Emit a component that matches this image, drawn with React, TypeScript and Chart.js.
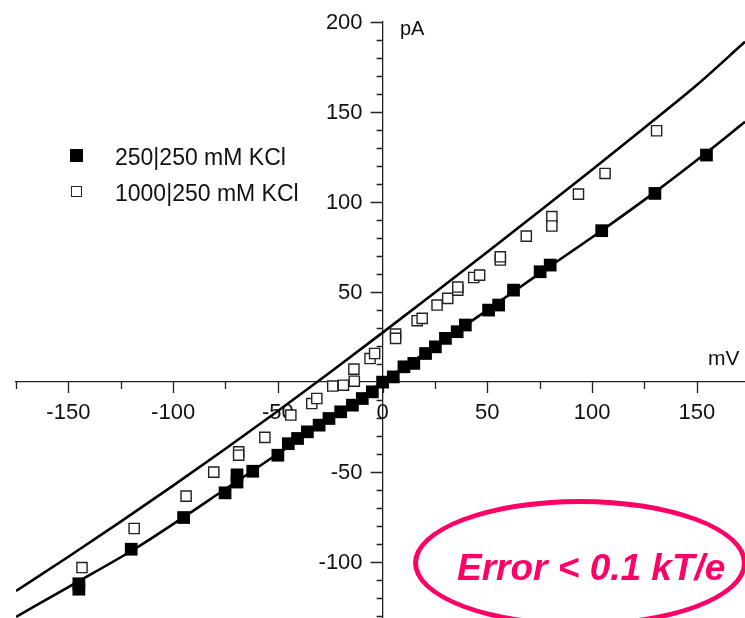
import React, { useEffect, useRef } from "react";
import { Chart, registerables } from "chart.js";

Chart.register(...registerables);

// ---- data (mV, pA) ----
const kcl250V = [-145, -145, -120, -95, -75.2, -69.5, -69.5, -62, -50, -45, -40.6, -35.9, -30.3, -25.6, -20, -14.4, -9.7, -4.9, 0, 5.1, 10.2, 14.9, 20.5, 25.2, 30, 35.6, 39.5, 50.6, 55.4, 62.5, 75.2, 80, 104.6, 130, 154.6];
const kcl250I = [-112, -115, -92.8, -75.2, -61.5, -51.5, -55.5, -49.5, -40.6, -34.2, -31.3, -27.6, -23.9, -20.2, -16.5, -12.8, -9.1, -5.4, 0, 2.9, 8.5, 10.4, 15.9, 19.6, 24.3, 28, 31.7, 40, 42.8, 51.1, 61.3, 65, 84.1, 104.8, 126.1];

const kcl1000V = [-143.5, -118.6, -93.8, -80.6, -68.7, -68.7, -56.2, -43.8, -33.8, -31.4, -23.8, -18.7, -13.5, -13.7, -6, -3.8, 6.2, 6.2, 16.5, 18.9, 26, 31.1, 35.9, 35.9, 43.5, 46.3, 56.2, 56.2, 68.6, 80.8, 80.8, 93.5, 106.2, 130.8];
const kcl1000I = [-103, -81.3, -63.3, -50, -38.7, -40.6, -30.7, -18.3, -11.9, -9.1, -2.2, -1.7, 0.5, 7.2, 13.1, 15.9, 26.7, 24.3, 34.1, 35.4, 42.8, 46.5, 51.1, 52.8, 58.1, 59.4, 67.8, 69.6, 81.1, 91.9, 86.7, 104.4, 115.9, 139.6];

const fit1000V = [-175, -150, -125, -100, -75, -50, -25, 0, 25, 50, 75, 100, 125, 150, 173];
const fit1000I = [-116, -97, -77.5, -57.5, -37, -16, 5.5, 27.5, 49.8, 72.3, 95, 118, 141.3, 165, 189];

const fit250V = [-175, -150, -118, -95, -77, -50, 0, 50, 75, 105, 130, 155, 173];
const fit250I = [-130.4, -113.8, -92.4, -75, -60.9, -39.8, 0, 40, 60.4, 84.5, 105.5, 127.8, 144.6];

const xTickLabels = [-150, -100, -50, 0, 50, 100, 150];
const yTickLabels = [-100, -50, 50, 100, 150, 200];

const legendLabels = ["250|250 mM KCl", "1000|250 mM KCl"];

const FONT = "'Liberation Sans', Arial, Helvetica, sans-serif";
const PINK = "#ff0066";

const pts = (xs: number[], ys: number[]) => xs.map((v, i) => ({ x: v, y: ys[i] }));

const axisDecor = {
  id: "axisDecor",
  beforeDatasetsDraw(chart: any) {
    const { ctx, scales } = chart;
    const xs = scales.x;
    const ys = scales.y;
    const x0 = xs.getPixelForValue(0);
    const y0 = ys.getPixelForValue(0);
    ctx.save();
    ctx.strokeStyle = "#222";
    ctx.lineWidth = 1.3;
    ctx.beginPath();
    xs.ticks.forEach((t: any) => {
      const px = Math.round(xs.getPixelForValue(t.value)) + 0.5;
      const len = t.value % 50 === 0 ? 11 : 7;
      ctx.moveTo(px, y0);
      ctx.lineTo(px, y0 + len);
    });
    ys.ticks.forEach((t: any) => {
      if (t.value === 0) return;
      const py = Math.round(ys.getPixelForValue(t.value)) + 0.5;
      const len = t.value % 50 === 0 ? 12 : 6;
      ctx.moveTo(x0, py);
      ctx.lineTo(x0 - len, py);
    });
    ctx.stroke();

    ctx.fillStyle = "#111";
    ctx.font = `22px ${FONT}`;
    ctx.textBaseline = "middle";
    ctx.textAlign = "center";
    xTickLabels.forEach((v) => {
      ctx.fillText(String(v), xs.getPixelForValue(v), y0 + 31);
    });
    ctx.textAlign = "right";
    yTickLabels.forEach((v) => {
      ctx.fillText(String(v), x0 - 20, ys.getPixelForValue(v) + 1);
    });
    ctx.restore();
  },
};

export default function App() {
  const canvasRef = useRef<HTMLCanvasElement | null>(null);

  useEffect(() => {
    if (!canvasRef.current) return;
    const chart = new Chart(canvasRef.current, {
      type: "scatter",
      data: {
        datasets: [
          {
            label: "fit 1000|250",
            data: pts(fit1000V, fit1000I),
            showLine: true,
            borderColor: "#000",
            borderWidth: 2.6,
            pointRadius: 0,
            cubicInterpolationMode: "monotone",
            fill: false,
            order: 3,
          } as any,
          {
            label: "fit 250|250",
            data: pts(fit250V, fit250I),
            showLine: true,
            borderColor: "#000",
            borderWidth: 2.6,
            pointRadius: 0,
            cubicInterpolationMode: "monotone",
            fill: false,
            order: 2,
          } as any,
          {
            label: legendLabels[0],
            data: pts(kcl250V, kcl250I),
            pointStyle: "rect",
            pointRadius: 9,
            backgroundColor: "#000",
            borderColor: "#000",
            borderWidth: 0,
            order: 1,
          } as any,
          {
            label: legendLabels[1],
            data: pts(kcl1000V, kcl1000I),
            pointStyle: "rect",
            pointRadius: 7.2,
            backgroundColor: "#fff",
            borderColor: "#222",
            borderWidth: 1.4,
            order: 0,
          } as any,
        ],
      },
      options: {
        animation: false,
        responsive: false,
        layout: { autoPadding: false, padding: { left: 16, top: 22, right: 0, bottom: 0 } } as any,
        plugins: { legend: { display: false }, tooltip: { enabled: false } },
        scales: {
          x: {
            type: "linear",
            min: -175,
            max: 173,
            position: { y: 0 } as any,
            grid: { display: false, drawTicks: false },
            border: { display: true, color: "#222", width: 1.3 },
            ticks: { display: false, stepSize: 25, includeBounds: false } as any,
          },
          y: {
            type: "linear",
            min: -131,
            max: 200,
            position: { x: 0 } as any,
            grid: { display: false, drawTicks: false },
            border: { display: true, color: "#222", width: 1.3 },
            ticks: { display: false, stepSize: 10, includeBounds: false } as any,
          },
        },
      },
      plugins: [axisDecor],
    });
    return () => chart.destroy();
  }, []);

  const txt: React.CSSProperties = {
    position: "absolute",
    fontFamily: FONT,
    color: "#111",
    lineHeight: 1,
    whiteSpace: "nowrap",
  };

  return (
    <div style={{ position: "absolute", left: 0, top: 0, width: 745, height: 618, background: "#fff", overflow: "hidden" }}>
      <canvas ref={canvasRef} width={745} height={618} style={{ position: "absolute", left: 0, top: 0 }} />
      {/* legend */}
      <div style={{ position: "absolute", left: 70, top: 149, width: 13, height: 13, background: "#000" }} />
      <div style={{ ...txt, left: 115, top: 146, fontSize: 23 }}>{legendLabels[0]}</div>
      <div style={{ position: "absolute", left: 71, top: 186, width: 11, height: 11, boxSizing: "border-box", border: "1.4px solid #222", background: "#fff" }} />
      <div style={{ ...txt, left: 115, top: 182, fontSize: 23 }}>{legendLabels[1]}</div>
      {/* axis units */}
      <div style={{ ...txt, left: 400, top: 18, fontSize: 20 }}>pA</div>
      <div style={{ ...txt, left: 708, top: 347, fontSize: 21 }}>mV</div>
      {/* annotation */}
      <div style={{ position: "absolute", left: 413, top: 499, width: 334, height: 128, boxSizing: "border-box", border: `5px solid ${PINK}`, borderRadius: "50%" }} />
      <div style={{ ...txt, left: 457, top: 549, fontSize: 37, fontWeight: "bold", fontStyle: "italic", color: PINK }}>Error &lt; 0.1 kT/e</div>
    </div>
  );
}
